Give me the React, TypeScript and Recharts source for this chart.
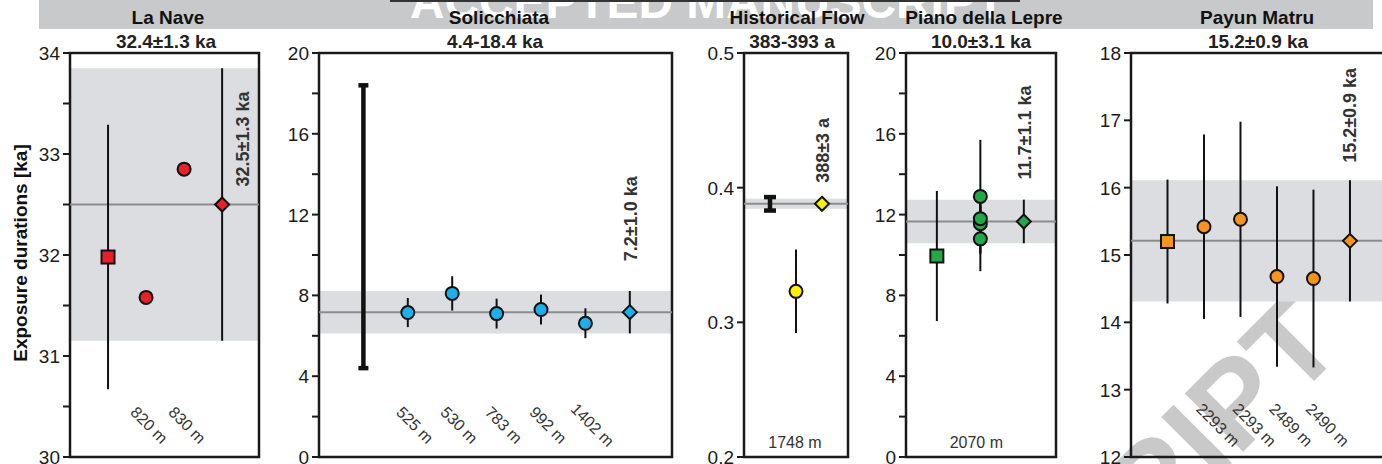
import React from 'react';
import { ComposedChart, Scatter, ErrorBar, XAxis, YAxis, ReferenceArea, ReferenceLine } from 'recharts';

const FONT = "'Liberation Sans', Arial, Helvetica, sans-serif";

const titles = ['La Nave', 'Solicchiata', 'Historical Flow', 'Piano della Lepre', 'Payun Matru'];
const subtitles = ['32.4±1.3 ka', '4.4-18.4 ka', '383-393 a', '10.0±3.1 ka', '15.2±0.9 ka'];
const meanLabels = ['32.5±1.3 ka', '7.2±1.0 ka', '388±3 a', '11.7±1.1 ka', '15.2±0.9 ka'];

// La Nave
const naveSites = ['820 m', '830 m'];
const naveAges = [31.58, 32.85];
const naveErrs = [0, 0];
const naveRef = [31.98, 1.31];
const naveMean = [32.5, 1.35];
const naveTicks = [30, 30.5, 31, 31.5, 32, 32.5, 33, 33.5, 34];
const naveTickLabels = [30, 31, 32, 33, 34];

// Solicchiata
const solSites = ['525 m', '530 m', '783 m', '992 m', '1402 m'];
const solAges = [7.15, 8.1, 7.1, 7.3, 6.62];
const solErrs = [0.72, 0.85, 0.74, 0.74, 0.74];
const solRange = [4.4, 18.4];
const solMean = [7.17, 1.05];
const kaTicks = [0, 2, 4, 6, 8, 10, 12, 14, 16, 18, 20];
const kaTickLabels = [0, 4, 8, 12, 16, 20];

// Historical Flow
const histSites = ['1748 m'];
const histAges = [0.323];
const histErrs = [0.031];
const histRange = [0.383, 0.393];
const histMean = [0.388, 0.0037];
const histTicks = [0.2, 0.3, 0.4, 0.5];

// Piano della Lepre
const pianoSites = ['2070 m'];
const pianoAges = [11.55, 11.8, 12.9, 10.8];
const pianoErrs = [1.5, 1.2, 2.8, 1.6];
const pianoRef = [9.95, 3.22];
const pianoMean = [11.66, 1.08];

// Payun Matru
const payunSites = ['2293 m', '2293 m', '2489 m', '2490 m'];
const payunAges = [15.42, 15.53, 14.68, 14.65];
const payunErrs = [1.37, 1.45, 1.34, 1.32];
const payunRef = [15.2, 0.92];
const payunMean = [15.21, 0.9];
const payunTicks = [12, 13, 14, 15, 16, 17, 18];

interface Pt { x: number; y: number; e: number }

interface PanelDef {
  frameL: number; frameR: number;
  xDomain: [number, number]; yDomain: [number, number];
  yTicks: number[]; yLabels: number[];
  color: string;
  squares: Pt[]; circles: Pt[]; mean: Pt; range?: Pt; rangeCap: number;
  siteX: number[]; siteNames: string[]; rotateSites: boolean; siteDx: number;
  meanText: string; textDx: number; textDy: number;
  titleX: number; subX: number; title: string; subtitle: string;
}

function build(o: {
  i: number; frameL: number; frameR: number; xDomain: [number, number]; yDomain: [number, number];
  yTicks: number[]; yLabels: number[]; color: string;
  sites: string[]; ages: number[]; errs: number[]; ref?: number[]; range?: number[]; mean: number[];
  sameX?: boolean; rotateSites: boolean; siteDx: number; textDx: number; textDy: number;
  titleX: number; subX: number; rangeCap?: number;
}): PanelDef {
  const circles = o.ages.map((a, k) => ({ x: o.sameX ? 2 : 2 + k, y: a, e: o.errs[k] }));
  const last = o.sameX ? 2 : 1 + o.ages.length;
  return {
    frameL: o.frameL, frameR: o.frameR, xDomain: o.xDomain, yDomain: o.yDomain,
    yTicks: o.yTicks, yLabels: o.yLabels, color: o.color,
    squares: o.ref ? [{ x: 1, y: o.ref[0], e: o.ref[1] }] : [],
    range: o.range ? { x: 1, y: (o.range[0] + o.range[1]) / 2, e: (o.range[1] - o.range[0]) / 2 } : undefined,
    rangeCap: o.rangeCap ?? 5,
    circles,
    mean: { x: last + 1, y: o.mean[0], e: o.mean[1] },
    siteX: o.sameX ? [2] : o.sites.map((_, k) => 2 + k),
    siteNames: o.sites, rotateSites: o.rotateSites, siteDx: o.siteDx,
    meanText: meanLabels[o.i], textDx: o.textDx, textDy: o.textDy,
    titleX: o.titleX, subX: o.subX, title: titles[o.i], subtitle: subtitles[o.i],
  };
}

const panels: PanelDef[] = [
  build({ i: 0, frameL: 70, frameR: 259, xDomain: [0, 4.97], yDomain: [30, 34], yTicks: naveTicks, yLabels: naveTickLabels,
    color: '#e8202a', sites: naveSites, ages: naveAges, errs: naveErrs, ref: naveRef, mean: naveMean,
    rotateSites: true, siteDx: 3, textDx: 20, textDy: 18, titleX: 168, subX: 166 }),
  build({ i: 1, frameL: 319, frameR: 672, xDomain: [0, 7.95], yDomain: [0, 20], yTicks: kaTicks, yLabels: kaTickLabels,
    color: '#1bb0ea', sites: solSites, ages: solAges, errs: solErrs, range: solRange, mean: solMean,
    rotateSites: true, siteDx: 7, textDx: 1, textDy: 51, titleX: 499, subX: 495 }),
  build({ i: 2, frameL: 744, frameR: 848, xDomain: [0, 4], yDomain: [0.2, 0.5], yTicks: histTicks, yLabels: histTicks,
    color: '#fff200', sites: histSites, ages: histAges, errs: histErrs, range: histRange, mean: histMean,
    rotateSites: false, siteDx: -1, textDx: 0, textDy: 21, titleX: 797, subX: 792, rangeCap: 6 }),
  build({ i: 3, frameL: 906, frameR: 1056, xDomain: [0.29, 3.74], yDomain: [0, 20], yTicks: kaTicks, yLabels: kaTickLabels,
    color: '#22a84a', sites: pianoSites, ages: pianoAges, errs: pianoErrs, ref: pianoRef, mean: pianoMean, sameX: true,
    rotateSites: false, siteDx: -4, textDx: 1, textDy: 42, titleX: 984, subX: 981 }),
  build({ i: 4, frameL: 1131, frameR: 1385, xDomain: [0, 6.96], yDomain: [12, 18], yTicks: payunTicks, yLabels: payunTicks,
    color: '#f7941d', sites: payunSites, ages: payunAges, errs: payunErrs, ref: payunRef, mean: payunMean,
    rotateSites: true, siteDx: 14, textDx: 0, textDy: 78, titleX: 1257, subX: 1258 }),
];

const PLOT_BOTTOM = 457;
const blank = () => <g />;

function yTick(p: PanelDef, t: any) {
  const v = t.payload.value;
  if (!p.yLabels.includes(v)) return <g />;
  return (
    <text x={t.x} y={t.y} dy={7} textAnchor="end" fontSize={19} fill="#1a1a1a" fontFamily={FONT}>{String(v)}</text>
  );
}

function siteTick(p: PanelDef, t: any) {
  const name = p.siteNames[t.index] ?? '';
  if (p.rotateSites) {
    return (
      <text transform={`translate(${t.x + p.siteDx},${PLOT_BOTTOM - 32}) rotate(45)`} textAnchor="middle"
        dominantBaseline="central" fontSize={16} fill="#333" fontFamily={FONT}>{name}</text>
    );
  }
  return (
    <text x={t.x + p.siteDx} y={PLOT_BOTTOM - 9} textAnchor="middle" fontSize={16} fill="#333" fontFamily={FONT}>{name}</text>
  );
}

function Panel({ p }: { p: PanelDef }) {
  const YW = 64;
  const PADR = 8;
  const w = YW + (p.frameR - p.frameL) + PADR;
  const lo = p.mean.y - p.mean.e;
  const hi = p.mean.y + p.mean.e;
  const errPts = [...p.squares, ...p.circles, p.mean];

  const square = (s: any) => (
    <rect x={s.cx - 6.5} y={s.cy - 6.5} width={13} height={13} fill={p.color} stroke="#111" strokeWidth={2} />
  );
  const circle = (s: any) => <circle cx={s.cx} cy={s.cy} r={6.5} fill={p.color} stroke="#111" strokeWidth={2} />;
  const diamond = (s: any) => {
    const r = 7;
    return (
      <g>
        <polygon points={`${s.cx},${s.cy - r} ${s.cx + r},${s.cy} ${s.cx},${s.cy + r} ${s.cx - r},${s.cy}`}
          fill={p.color} stroke="#111" strokeWidth={2} />
        <text transform={`translate(${s.cx + p.textDx + 6.5},${s.cy - p.textDy}) rotate(-90)`} textAnchor="start"
          fontSize={18} fontWeight="bold" fill="#333" fontFamily={FONT}>{p.meanText}</text>
      </g>
    );
  };

  return (
    <div style={{ position: 'absolute', left: p.frameL - YW, top: 0 }}>
      <ComposedChart width={w} height={464} margin={{ top: 53, right: PADR, bottom: 6, left: 0 }}>
        <XAxis type="number" dataKey="x" domain={p.xDomain} allowDataOverflow ticks={p.siteX} interval={0} height={1}
          axisLine={false} tickLine={false} tick={(t: any) => siteTick(p, t)} />
        <YAxis type="number" dataKey="y" domain={p.yDomain} allowDataOverflow ticks={p.yTicks} interval={0} width={YW}
          axisLine={false} tickSize={7} tickMargin={3} tickLine={{ stroke: '#1a1a1a', strokeWidth: 2 }}
          tick={(t: any) => yTick(p, t)} />
        <ReferenceArea y1={lo} y2={hi} fill="#dcdde0" fillOpacity={1} stroke="none" />
        <ReferenceLine y={p.mean.y} stroke="#8c8c8c" strokeWidth={2} />
        <ReferenceArea x1={p.xDomain[0]} x2={p.xDomain[1]} y1={p.yDomain[0]} y2={p.yDomain[1]}
          fill="none" fillOpacity={0} stroke="#1a1a1a" strokeWidth={2.5} />
        <Scatter data={errPts} shape={blank} isAnimationActive={false}>
          <ErrorBar dataKey="e" direction="y" width={0} stroke="#111" strokeWidth={2} />
        </Scatter>
        {p.range && (
          <Scatter data={[p.range]} shape={blank} isAnimationActive={false}>
            <ErrorBar dataKey="e" direction="y" width={p.rangeCap} stroke="#111" strokeWidth={4.5} />
          </Scatter>
        )}
        {p.squares.length > 0 && <Scatter data={p.squares} shape={square} isAnimationActive={false} />}
        <Scatter data={p.circles} shape={circle} isAnimationActive={false} />
        <Scatter data={[p.mean]} shape={diamond} isAnimationActive={false} />
      </ComposedChart>
    </div>
  );
}

export default function App() {
  return (
    <div style={{ position: 'absolute', left: 0, top: 0, width: 1382, height: 464, overflow: 'hidden', background: '#fff', fontFamily: FONT }}>
      <svg width={1382} height={464} style={{ position: 'absolute', left: 0, top: 0 }}>
        <text transform="translate(1346,349) rotate(-45)" textAnchor="end" fontSize={120} fontWeight="bold"
          fill="#c9c9c9" fontFamily={FONT}>ANUSCRIPT</text>
        <rect x={39} y={0} width={1334} height={29} fill="#c8c9cb" />
        <text x={410} y={18} fontSize={48} fontWeight="bold" fill="#fff" fontFamily={FONT}
          textLength={595} lengthAdjust="spacingAndGlyphs">ACCEPTED MANUSCRIPT</text>
        <rect x={390} y={0} width={630} height={2} fill="#333" />
        {panels.map((p) => (
          <g key={p.title}>
            <text x={p.titleX} y={24} textAnchor="middle" fontSize={19} fontWeight="bold" fill="#111" fontFamily={FONT}>{p.title}</text>
            <text x={p.subX} y={48} textAnchor="middle" fontSize={19} fontWeight="bold" fill="#222" fontFamily={FONT}>{p.subtitle}</text>
          </g>
        ))}
        <text transform="translate(27,253) rotate(-90)" textAnchor="middle" fontSize={19} fontWeight="bold"
          fill="#111" fontFamily={FONT}>Exposure durations [ka]</text>
      </svg>
      {panels.map((p) => <Panel key={p.title} p={p} />)}
    </div>
  );
}
